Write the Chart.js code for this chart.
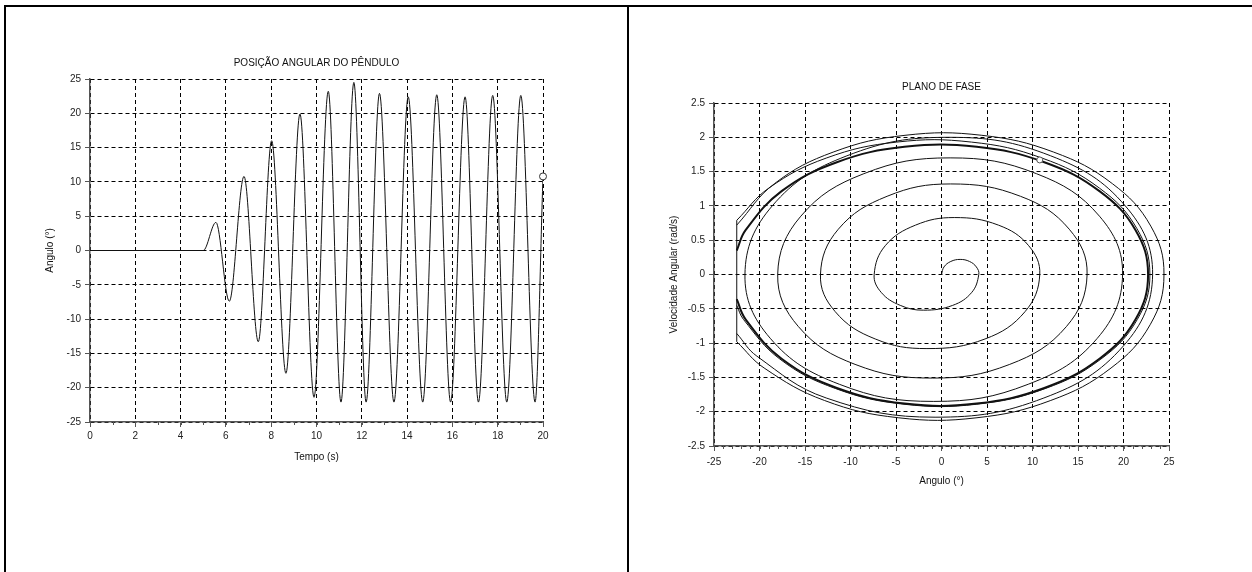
<!DOCTYPE html>
<html lang="pt">
<head>
<meta charset="UTF-8">
<title>Pêndulo - posição angular e plano de fase</title>
<script src="https://cdn.jsdelivr.net/npm/chart.js"></script>
<style>
  body { margin: 0; background: #fff; width: 1252px; height: 572px; overflow: hidden; position: relative; }
  .ln { position: absolute; background: #000; }
  canvas { position: absolute; top: 0; }
</style>
</head>
<body>
<div class="ln" style="left:4px;top:5px;width:1248px;height:2px"></div>
<div class="ln" style="left:4px;top:5px;width:2px;height:567px"></div>
<div class="ln" style="left:627px;top:5px;width:2px;height:567px"></div>
<canvas id="posChart" width="627" height="572" style="left:0"></canvas>
<canvas id="faseChart" width="623" height="572" style="left:629px"></canvas>

<script>
// ---- posição angular x tempo (picos e vales) ----
const tempo  = [0, 5.0, 5.56, 6.15, 6.80, 7.43, 8.02, 8.65, 9.27, 9.89, 10.52, 11.08, 11.65, 12.19, 12.78,
                13.42, 14.05, 14.69, 15.31, 15.92, 16.56, 17.15, 17.78, 18.40, 19.02, 19.65, 20.0];
const angulo = [0, 0, 4.1, -7.4, 10.8, -13.3, 16.0, -17.9, 19.9, -21.4, 23.2, -22.1, 24.5, -22.1, 22.9,
                -22.1, 22.4, -22.1, 22.7, -22.1, 22.4, -22.1, 22.6, -22.1, 22.6, -22.1, 10.8];
const fimTempo = [20.0];
const fimAngulo = [10.8];

// ---- plano de fase (ângulo em graus, velocidade em rad/s) ----
// espiral crescente até a primeira batida no batente
const espiralAng = [0, 0.27, 1.02, 2.05, 3.08, 3.83, 4.1, 3.33, 1.23, -2.0, -4.53, -6.63, -7.4,
                    -6.18, -2.85, 1.4, 6.25, 9.58, 10.8, 9.19, 4.78, -1.6, -7.28, -11.69, -13.3,
                    -11.34, -5.98, 1.0, 8.68, 14.04, 16.0, 13.72, 7.5, -1.0, -9.5, -15.72, -18.0,
                    -15.46, -8.53, 0.95, 10.43, 17.36, 19.9, 17.12, 9.53, -0.85, -11.23, -18.82, -21.6,
                    -18.6, -10.4, 0.8, 12.0, 20.2, 23.2, 20.0, 11.25, -0.71, -12.67, -20.29, -22.5];
const espiralVel = [0, 0.11, 0.19, 0.22, 0.19, 0.11, 0, -0.26, -0.45, -0.52, -0.45, -0.26, 0,
                    0.42, 0.72, 0.83, 0.72, 0.42, 0, -0.54, -0.94, -1.08, -0.94, -0.54, 0,
                    0.66, 1.14, 1.32, 1.14, 0.66, 0, -0.76, -1.31, -1.51, -1.31, -0.76, 0,
                    0.85, 1.47, 1.70, 1.47, 0.85, 0, -0.93, -1.60, -1.85, -1.60, -0.93, 0,
                    1.0, 1.73, 2.0, 1.73, 1.0, 0, -1.04, -1.80, -2.08, -1.80, -1.19, -0.86];
// ciclos após o batente em -22.5°
const cicloAAng = [-22.5, -18.36, -11.91, -4.01, 4.43, 12.33, 18.78, 23.0, 24.45,
                   22.96, 18.63, 12.01, 3.90, -4.76, -12.87, -19.49, -22.5];
const cicloAVel = [0.72, 1.324, 1.784, 2.029, 2.029, 1.784, 1.324, 0.705, 0,
                   -0.725, -1.363, -1.836, -2.088, -2.088, -1.836, -1.363, -0.98];
const cicloBAng = [-22.5, -18.97, -12.67, -4.93, 3.31, 11.05, 17.35, 21.47, 22.9,
                   21.51, 17.51, 11.39, 3.88, -4.12, -11.63, -17.75, -21.75, -22.5];
const cicloBVel = [0.79, 1.26, 1.697, 1.93, 1.93, 1.697, 1.26, 0.67, 0,
                   -0.657, -1.234, -1.663, -1.891, -1.891, -1.663, -1.234, -0.657, -0.45];
const regimeAng = [-22.5, -21.53, -17.57, -11.5, -4.07, 3.87, 11.3, 17.36, 21.33, 22.7,
                   21.33, 17.36, 11.3, 3.87, -4.07, -11.5, -17.57, -21.53, -22.5];
const regimeVel = [0.35, 0.646, 1.215, 1.637, 1.861, 1.861, 1.637, 1.215, 0.646, 0,
                   -0.653, -1.228, -1.654, -1.881, -1.881, -1.654, -1.228, -0.653, -0.36];
const batenteAng = [-22.5, -22.5];
const batenteVel = [-0.98, 0.79];
const fimFaseAng = [10.8];
const fimFaseVel = [1.67];

const pts = (xs, ys) => xs.map((x, i) => ({ x: x, y: ys[i] }));
const fonte = { family: '"Liberation Sans", Arial, sans-serif', size: 10 };
const cor = '#111';

// pequenos traços entre os ticks principais
const minorTicks = {
  id: 'minorTicks',
  afterDraw(chart, args, opts) {
    const s = chart.scales.x, ctx = chart.ctx;
    ctx.save();
    ctx.strokeStyle = '#555';
    ctx.lineWidth = 1;
    for (let v = s.min; v <= s.max + 1e-9; v += opts.step) {
      const px = Math.round(s.getPixelForValue(v)) + 0.5;
      ctx.beginPath();
      ctx.moveTo(px, s.top);
      ctx.lineTo(px, s.top + 3);
      ctx.stroke();
    }
    ctx.restore();
  }
};

function eixo(min, max, step, titulo, fit, pad) {
  return {
    type: 'linear', min: min, max: max,
    ticks: { stepSize: step, font: fonte, color: '#222', padding: pad, callback: v => String(v), maxRotation: 0, autoSkip: false },
    title: { display: true, text: titulo, font: fonte, color: '#111', padding: { top: 4, bottom: 4 } },
    grid: { color: '#000', lineWidth: 1, tickLength: 5, tickColor: '#555', tickWidth: 1 },
    border: { display: true, color: '#555', width: 1.5, dash: [4, 3] },
    afterFit: fit
  };
}

function titulo(texto, top, bottom) {
  return { display: true, text: texto, fullSize: false, font: Object.assign({ weight: 'normal' }, fonte),
           color: '#111', padding: { top: top, bottom: bottom } };
}

// o marcador vem primeiro para ficar por cima das linhas
new Chart(document.getElementById('posChart'), {
  type: 'scatter',
  data: {
    datasets: [
      { data: pts(fimTempo, fimAngulo), pointRadius: 3.5, pointBackgroundColor: '#fff', pointBorderColor: '#333', pointBorderWidth: 1, clip: false },
      { data: pts(tempo, angulo), showLine: true, pointRadius: 0, borderColor: cor, borderWidth: 1, cubicInterpolationMode: 'monotone' }
    ]
  },
  options: {
    responsive: false, animation: false, events: [],
    layout: { padding: { left: 40, right: 84, top: 0, bottom: 105 } },
    plugins: { legend: { display: false }, tooltip: { enabled: false }, title: titulo('POSIÇÃO ANGULAR DO PÊNDULO', 57, 10), minorTicks: { step: 1 } },
    scales: {
      x: eixo(0, 20, 2, 'Tempo (s)', s => { s.height = 45; }, 3),
      y: eixo(-25, 25, 5, 'Angulo (°)', s => { s.width = 50; }, 4)
    }
  },
  plugins: [minorTicks]
});

const linhaFase = { showLine: true, pointRadius: 0, borderColor: cor, borderWidth: 1, tension: 0.4 };

new Chart(document.getElementById('faseChart'), {
  type: 'scatter',
  data: {
    datasets: [
      { data: pts(fimFaseAng, fimFaseVel), pointRadius: 3, pointBackgroundColor: '#fff', pointBorderColor: '#555', pointBorderWidth: 1, clip: false },
      Object.assign({ data: pts(espiralAng, espiralVel) }, linhaFase),
      Object.assign({ data: pts(cicloAAng, cicloAVel) }, linhaFase),
      Object.assign({ data: pts(cicloBAng, cicloBVel) }, linhaFase),
      Object.assign({ data: pts(regimeAng, regimeVel) }, linhaFase, { borderWidth: 2 }),
      Object.assign({ data: pts(batenteAng, batenteVel) }, linhaFase, { tension: 0 })
    ]
  },
  options: {
    responsive: false, animation: false, events: [],
    layout: { padding: { left: 35, right: 83, top: 0, bottom: 81 } },
    plugins: { legend: { display: false }, tooltip: { enabled: false }, title: titulo('PLANO DE FASE', 81, 10), minorTicks: { step: 1 } },
    scales: {
      x: eixo(-25, 25, 5, 'Angulo (°)', s => { s.height = 45; }, 5),
      y: eixo(-2.5, 2.5, 0.5, 'Velocidade Angular (rad/s)', s => { s.width = 50; }, 4)
    }
  },
  plugins: [minorTicks]
});
</script>
</body>
</html>
